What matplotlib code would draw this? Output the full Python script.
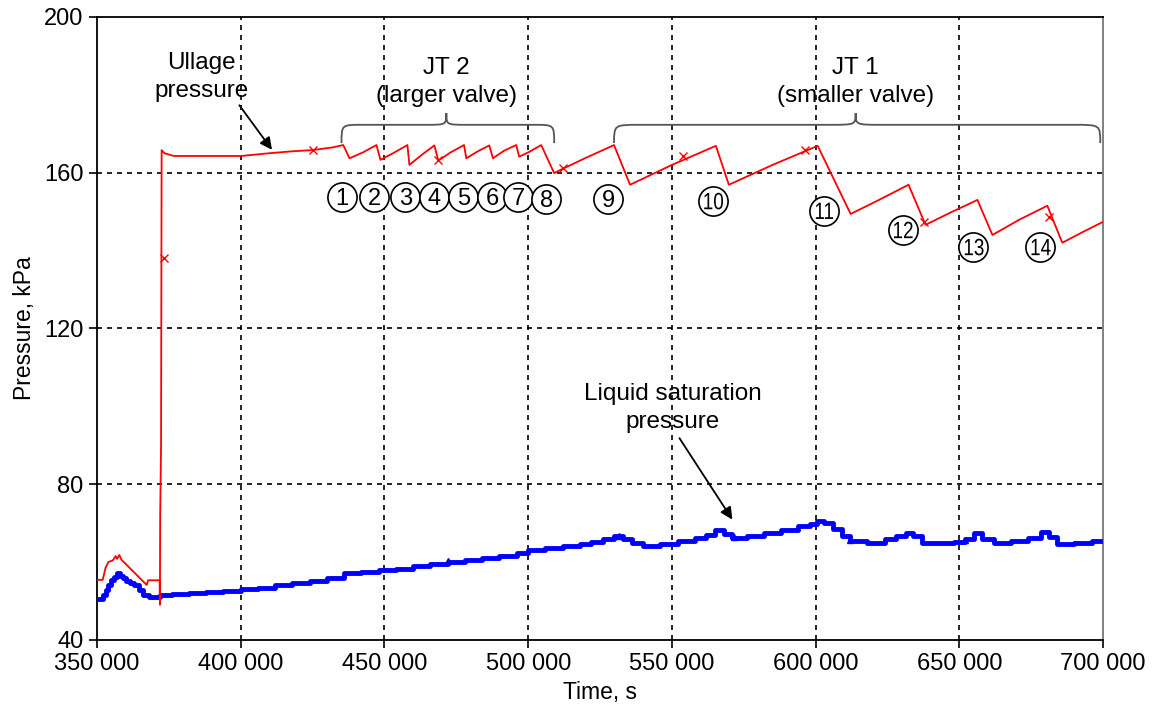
import matplotlib
matplotlib.use("Agg")
import matplotlib.pyplot as plt
from matplotlib.path import Path
from matplotlib.patches import PathPatch
from matplotlib.textpath import TextPath
from matplotlib.font_manager import FontProperties
from matplotlib.transforms import Affine2D

plt.rcParams['font.family'] = ['Liberation Sans', 'DejaVu Sans']

# ---------------- data ----------------
t_ullage = [350000, 352000, 353000, 354000, 355500, 356500, 357000, 357800, 358500,
            367300, 367800, 371800, 371900, 372000, 372300, 372500, 373500, 376700,
            400300, 410000, 418000, 425000, 432000,
            435660, 437850, 442500, 447220, 448610, 453000, 457990, 458680, 463000,
            467360, 468750, 473000, 477670, 478470, 482500, 486460, 487740, 491500,
            495830, 496870, 500500, 504510, 509030, 512000, 520000, 529860,
            535420, 550000, 565280, 569790, 585000, 600690, 612150, 622000, 632290,
            638190, 647000, 656250, 661460, 671000, 680560, 685760, 693000, 700000]
p_ullage = [55.4, 55.4, 58.5, 60.0, 60.4, 61.5, 60.8, 61.8, 60.6,
            54.1, 55.3, 55.3, 49.0, 72.0, 90.0, 165.8, 165.0, 164.3,
            164.3, 165.0, 165.5, 165.8, 166.5,
            167.1, 163.7, 165.2, 167.1, 163.3, 165.0, 167.1, 162.0, 164.6,
            167.0, 163.1, 165.2, 167.1, 163.7, 165.5, 167.0, 163.7, 165.6,
            167.1, 164.1, 165.4, 167.1, 159.9, 161.0, 163.8, 167.1,
            156.9, 162.0, 166.9, 156.9, 162.0, 166.9, 149.4, 153.0, 156.9,
            146.6, 149.8, 153.0, 144.0, 148.0, 151.5, 142.0, 144.8, 147.4]

t_ullage_marks = [373200, 425300, 468750, 512000, 553800, 596200, 637500, 681000]
p_ullage_marks = [138.1, 165.7, 163.3, 161.2, 164.4, 165.8, 147.4, 148.7]

t_liquid = [350000, 351000, 352000, 353000, 354000, 355000, 356000, 357000, 358000,
            359000, 360000, 361500, 363000, 364500, 366000, 368000, 370000, 372000,
            376000, 382000, 388000, 394000, 400000, 406000, 412000, 418000, 424000,
            430000, 436000, 442000, 448000, 454000, 460000, 466000, 472000, 478000,
            484000, 490000, 496000, 500000, 506000, 512000, 518000, 522000, 526000,
            530000, 533000, 536000, 540000, 546000, 552000, 558000, 562000, 565000,
            568000, 571000, 576000, 582000, 588000, 594000, 598000, 600500, 603000,
            606000, 609000, 612000, 618000, 624000, 628000, 631500, 634000, 637000,
            642000, 648000, 652000, 655000, 658000, 662000, 668000, 674000, 678500,
            681000, 684000, 690000, 696000, 700000]
p_liquid = [50.5, 50.5, 51.5, 52.8, 54.0, 55.4, 56.2, 57.1, 56.5,
            56.0, 55.2, 54.6, 54.0, 52.8, 51.5, 51.1, 51.1, 51.5,
            51.8, 52.0, 52.2, 52.6, 53.0, 53.4, 54.0, 54.6, 55.2,
            56.0, 57.1, 57.4, 57.9, 58.3, 59.0, 59.6, 60.0, 60.5,
            61.0, 61.5, 62.2, 63.0, 63.6, 64.0, 64.6, 65.2, 66.0,
            66.8, 66.0, 64.8, 64.2, 64.6, 65.3, 66.2, 67.0, 68.3,
            67.2, 66.2, 66.6, 67.4, 68.3, 69.2, 69.8, 70.6, 70.0,
            68.5, 66.8, 65.3, 65.0, 65.8, 66.6, 67.5, 66.6, 65.0,
            64.8, 65.2, 66.0, 67.4, 66.0, 64.8, 65.4, 66.2, 67.6,
            66.4, 64.6, 64.8, 65.3, 65.7]

t_liquid_marks = [472000, 531500, 571500, 612000, 652000]
p_liquid_marks = [60.2, 66.6, 66.4, 65.6, 65.6]

event_labels = ['1', '2', '3', '4', '5', '6', '7', '8', '9', '10', '11', '12', '13', '14']
event_t = [435070, 446530, 457290, 467360, 477430, 487500, 496530, 506250,
           527780, 564240, 602780, 630210, 654860, 678120]
event_p = [153.8, 153.8, 153.8, 153.8, 153.8, 153.8, 153.8, 153.3,
           153.3, 152.7, 150.2, 145.3, 140.9, 140.9]

x_ticks = [350000, 400000, 450000, 500000, 550000, 600000, 650000, 700000]
x_ticklabels = ['350 000', '400 000', '450 000', '500 000', '550 000', '600 000', '650 000', '700 000']
y_ticks = [40, 80, 120, 160, 200]

# ---------------- figure ----------------
DPI = 100
fig = plt.figure(figsize=(11.54, 7.07), dpi=DPI)
ax = fig.add_axes([0.084, 0.095, 0.872, 0.881])
ax.set_xlim(350000, 700000)
ax.set_ylim(40, 200)

for xv in x_ticks[1:-1]:
    ax.axvline(xv, color='black', lw=1.2, ls=(0, (3, 3)), zorder=1)
for yv in y_ticks[1:-1]:
    ax.axhline(yv, color='black', lw=1.2, ls=(0, (3, 3)), zorder=1)

ax.plot(t_liquid, p_liquid, color='#0000ff', lw=3.5, drawstyle='steps-post',
        solid_capstyle='butt', zorder=3)
ax.plot(t_liquid_marks, p_liquid_marks, ls='none', marker='^', ms=5, mfc='none',
        mec='#0000ff', mew=1, zorder=3)
ax.plot(t_ullage, p_ullage, color='#ff0000', lw=1.3, zorder=4)
ax.plot(t_ullage_marks, p_ullage_marks, ls='none', marker='x', ms=6, color='#ff0000',
        mew=1, zorder=4)

ax.set_xticks(x_ticks)
ax.set_xticklabels(x_ticklabels)
ax.set_yticks(y_ticks)
ax.tick_params(axis='both', labelsize=17, direction='out', length=6, width=1.2, color='black')
for s in ax.spines.values():
    s.set_linewidth(1.3)
ax.spines['right'].set_color('#777777')
ax.set_xlabel('Time, s', fontsize=16.5, labelpad=4)
ax.set_ylabel('Pressure, kPa', fontsize=16.5, labelpad=6)

# circled event numbers (uniform circle size)
ax.plot(event_t, event_p, ls='none', marker='o', ms=21, mfc='white', mec='black',
        mew=1.2, zorder=6)
fp = FontProperties(family='Liberation Sans')
for lab, tx, py in zip(event_labels, event_t, event_p):
    if len(lab) == 1:
        ax.text(tx, py, lab, fontsize=17, ha='center', va='center_baseline', zorder=7)
    else:
        # two-digit labels: horizontally condensed glyphs so they fit the circle
        tp = TextPath((0, 0), lab, size=17, prop=fp)
        v = tp.vertices
        cx = (v[:, 0].min() + v[:, 0].max()) / 2
        cy = (v[:, 1].min() + v[:, 1].max()) / 2
        dx, dy = ax.transData.transform((tx, py))
        tr = (Affine2D().translate(-cx, -cy).scale(0.8 * DPI / 72, DPI / 72)
              .translate(dx, dy))
        fig.patches.append(PathPatch(tp, transform=tr, fc='black', ec='none',
                                     zorder=7, figure=fig))

# text annotations
txt_kw = dict(fontsize=17.5, ha='center', va='center', linespacing=1.35)
ax.text(386460, 184.6, 'Ullage\npressure', **txt_kw)
ax.annotate('', xy=(411460, 165.3), xytext=(398960, 177.9),
            arrowprops=dict(arrowstyle='-|>', color='black', lw=1.3, mutation_scale=18))
ax.text(471530, 183.3, 'JT 2\n(larger valve)', **txt_kw)
ax.text(613890, 183.3, 'JT 1\n(smaller valve)', **txt_kw)
ax.text(550350, 99.6, 'Liquid saturation\npressure', **txt_kw)
ax.annotate('', xy=(571530, 70.3), xytext=(552080, 92.4),
            arrowprops=dict(arrowstyle='-|>', color='black', lw=1.3, mutation_scale=18))


def brace(x0, xm, x1, y_end, y_h, y_tip, r):
    verts = [(x0, y_end), (x0, y_h), (x0, y_h), (x0 + r, y_h),
             (xm - r, y_h),
             (xm, y_h), (xm, y_h), (xm, y_tip),
             (xm, y_h), (xm, y_h), (xm + r, y_h),
             (x1 - r, y_h),
             (x1, y_h), (x1, y_h), (x1, y_end)]
    codes = [Path.MOVETO, Path.CURVE4, Path.CURVE4, Path.CURVE4,
             Path.LINETO,
             Path.CURVE4, Path.CURVE4, Path.CURVE4,
             Path.CURVE4, Path.CURVE4, Path.CURVE4,
             Path.LINETO,
             Path.CURVE4, Path.CURVE4, Path.CURVE4]
    ax.add_patch(PathPatch(Path(verts, codes), fc='none', ec='#555555', lw=1.3, zorder=5))


brace(435070, 471530, 509030, 167.6, 172.3, 175.3, 7000)
brace(529860, 613890, 698960, 167.6, 172.3, 175.3, 9000)

fig.savefig('out.png', dpi=DPI)
